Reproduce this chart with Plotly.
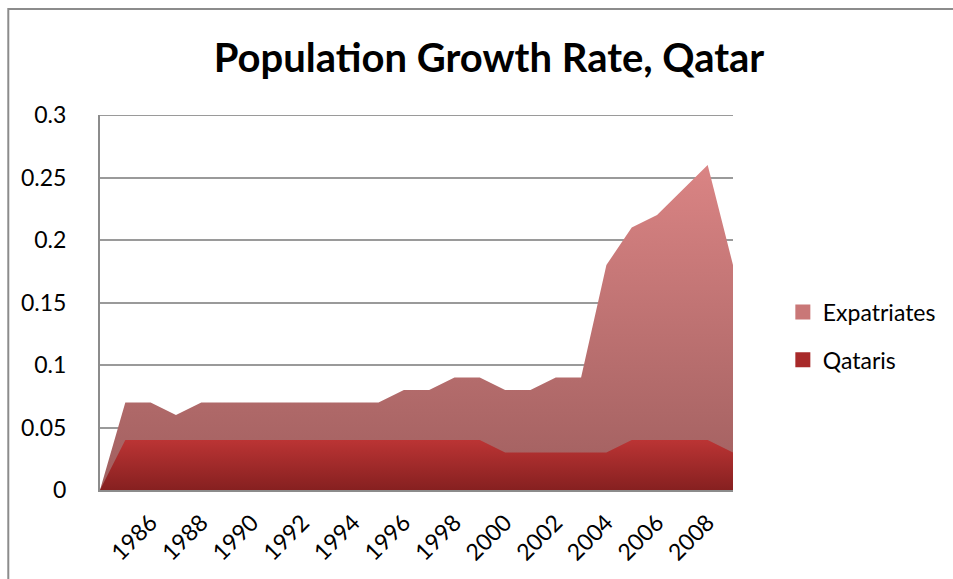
import plotly.graph_objects as go

# Annual population growth rates, Qatar
years = list(range(1984, 2010))
expatriates = [0, 0.07, 0.07, 0.06, 0.07, 0.07, 0.07, 0.07, 0.07, 0.07, 0.07, 0.07,
               0.08, 0.08, 0.09, 0.09, 0.08, 0.08, 0.09, 0.09,
               0.18, 0.21, 0.22, 0.24, 0.26, 0.18]
qataris = [0, 0.04, 0.04, 0.04, 0.04, 0.04, 0.04, 0.04, 0.04, 0.04, 0.04, 0.04,
           0.04, 0.04, 0.04, 0.04, 0.03, 0.03, 0.03, 0.03, 0.03,
           0.04, 0.04, 0.04, 0.04, 0.03]
tick_years = list(range(1986, 2009, 2))
tick_labels = [str(y) for y in tick_years]

FONT = "Lato, 'Open Sans', sans-serif"
W, H = 953, 579
L, R, T, B = 100, 218, 115, 89
pw, ph = W - L - R, H - T - B

fig = go.Figure()

fig.add_trace(go.Scatter(
    x=years, y=expatriates, mode="lines", fill="tozeroy",
    line=dict(width=0, color="#c77474"),
    fillgradient=dict(type="vertical", start=0, stop=0.26,
                      colorscale=[[0, "#a05f5f"], [1, "#da8484"]]),
    showlegend=False, hoverinfo="x+y", name="Expatriates"))

fig.add_trace(go.Scatter(
    x=years, y=qataris, mode="lines", fill="tozeroy",
    line=dict(width=0, color="#a82c2c"),
    fillgradient=dict(type="vertical", start=0, stop=0.04,
                      colorscale=[[0, "#862020"], [1, "#bb3434"]]),
    showlegend=False, hoverinfo="x+y", name="Qataris"))

# Legend entries with square swatches
fig.add_trace(go.Scatter(x=[None], y=[None], mode="markers", name="Expatriates",
                         legendgroup="a",
                         marker=dict(symbol="square", size=15, color="#c97777")))
fig.add_trace(go.Scatter(x=[None], y=[None], mode="markers", name="Qataris",
                         legendgroup="b",
                         marker=dict(symbol="square", size=15, color="#a82a2a")))

def px_x(p):
    return (p - L) / pw

def px_y(p):
    return (H - B - p) / ph

fig.update_layout(
    width=W, height=H,
    margin=dict(l=L, r=R, t=T, b=B),
    paper_bgcolor="white", plot_bgcolor="white",
    font=dict(family=FONT, size=22, color="#000000"),
    title=dict(text="<b>Population Growth Rate, Qatar</b>",
               font=dict(family=FONT, size=40, color="#000000"),
               x=489 / W, xanchor="center", xref="container",
               y=1 - 58 / H, yanchor="middle", yref="container"),
    legend=dict(x=px_x(785), xanchor="left", y=px_y(336), yanchor="middle",
                font=dict(family=FONT, size=23, color="#000000"),
                tracegroupgap=15, itemwidth=30, bgcolor="rgba(0,0,0,0)"),
    xaxis=dict(range=[1984, 2009], tickvals=tick_years, ticktext=tick_labels,
               tickangle=-45, showgrid=False, zeroline=False,
               showline=True, linecolor="#8c8c8c", linewidth=2,
               ticks="", ticklabelstandoff=8,
               tickfont=dict(family=FONT, size=23, color="#000000")),
    yaxis=dict(range=[0, 0.3], dtick=0.05, tick0=0, showgrid=True,
               gridcolor="#9a9a9a", gridwidth=2, zeroline=False,
               showline=True, linecolor="#8c8c8c", linewidth=2,
               ticks="", ticklabelstandoff=27,
               tickfont=dict(family=FONT, size=23, color="#000000")),
    shapes=[
        dict(type="rect", xref="paper", yref="paper",
             x0=px_x(8), x1=px_x(W + 10), y0=px_y(H + 10), y1=px_y(9),
             line=dict(color="#8c8c8c", width=2), fillcolor="rgba(0,0,0,0)",
             layer="below"),
        dict(type="line", xref="paper", yref="y", x0=0, x1=1, y0=0.3, y1=0.3,
             line=dict(color="#9a9a9a", width=2), layer="below"),
    ],
)

fig.write_html("out.html")
